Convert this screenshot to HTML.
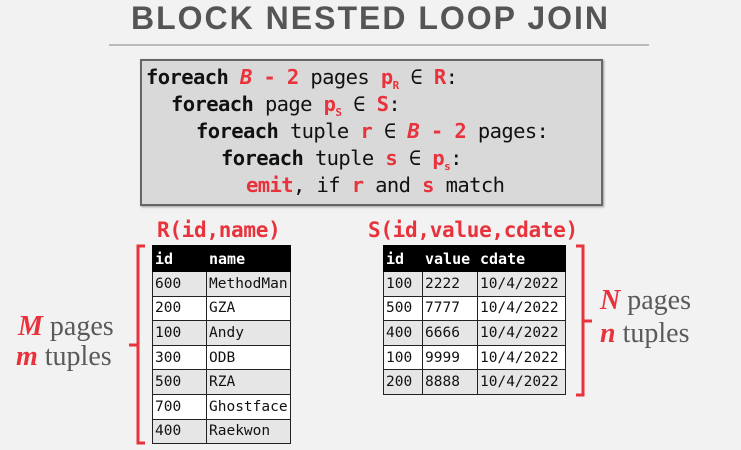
<!DOCTYPE html>
<html><head><style>
body{margin:0;width:741px;height:450px;background:#f2f2f2;position:relative;overflow:hidden;font-family:"Liberation Mono",monospace}
.a{position:absolute;white-space:pre}
.r{color:#e8323c}
.b{font-weight:bold}
table{position:absolute;border-collapse:collapse;font-family:"DejaVu Sans Mono","Liberation Mono",monospace;font-size:14.5px;table-layout:fixed}
tr{height:24.6px}
tr.h{height:26px}
td{border:1.5px solid #222;padding:0 2px;line-height:18px;color:#111;overflow:hidden;white-space:nowrap}
tr.h td{background:#000;color:#fff;font-weight:bold;border-color:#000;font-size:15px}
tr.g td{background:#e6e6e6}
tr.w td{background:#fff}
.code{position:absolute;left:140px;top:59px;width:459px;height:143px;background:#d9d9d9;border:2px solid #666;box-shadow:1px 1px 2px #999}
.code div{position:absolute;font-family:"DejaVu Sans Mono","Liberation Mono",monospace;font-size:20.5px;white-space:pre;color:#111;letter-spacing:-0.6px}
.serif{font-family:"Liberation Serif",serif;font-size:28px;color:#5a5a5a}
.serif i{color:#e8323c;font-weight:bold}
</style></head><body>
<div class="a b" style="left:0;width:741px;text-align:center;top:0px;font-family:'Liberation Sans',sans-serif;font-size:32px;color:#555;letter-spacing:2px">BLOCK NESTED LOOP JOIN</div>
<div class="a" style="left:109px;top:44px;width:540px;height:2px;background:#bbb"></div>
<div class="code">
<div style="left:4px;top:4px"><b>foreach</b> <span class="r b"><i>B</i> - 2</span> pages <span class="r b">p<sub style="font-size:11px">R</sub></span> ∈ <span class="r b">R</span>:</div>
<div style="left:29px;top:31px"><b>foreach</b> page <span class="r b">p<sub style="font-size:11px">S</sub></span> ∈ <span class="r b">S</span>:</div>
<div style="left:54px;top:58px"><b>foreach</b> tuple <span class="r b">r</span> ∈ <span class="r b"><i>B</i> - 2</span> pages:</div>
<div style="left:79px;top:85px"><b>foreach</b> tuple <span class="r b">s</span> ∈ <span class="r b">p<sub style="font-size:11px">s</sub></span>:</div>
<div style="left:104px;top:112px"><span class="r b">emit</span>, if <span class="r b">r</span> and <span class="r b">s</span> match</div>
</div>
<div class="a r b" style="left:157px;top:218px;font-family:'DejaVu Sans Mono',monospace;font-size:21px;letter-spacing:-0.3px">R(id,name)</div>
<div class="a r b" style="left:368px;top:218px;font-family:'DejaVu Sans Mono',monospace;font-size:21px;letter-spacing:-0.3px">S(id,value,cdate)</div>
<table style="left:152px;top:245px;width:139px">
<tr class="h"><td style="width:49px">id</td><td>name</td></tr>
<tr class="g"><td>600</td><td>MethodMan</td></tr>
<tr class="w"><td>200</td><td>GZA</td></tr>
<tr class="g"><td>100</td><td>Andy</td></tr>
<tr class="w"><td>300</td><td>ODB</td></tr>
<tr class="g"><td>500</td><td>RZA</td></tr>
<tr class="w"><td>700</td><td>Ghostface</td></tr>
<tr class="g"><td>400</td><td>Raekwon</td></tr>
</table>
<table style="left:383px;top:245px;width:183px">
<tr class="h"><td style="width:34px">id</td><td style="width:50px">value</td><td>cdate</td></tr>
<tr class="g"><td>100</td><td>2222</td><td>10/4/2022</td></tr>
<tr class="w"><td>500</td><td>7777</td><td>10/4/2022</td></tr>
<tr class="g"><td>400</td><td>6666</td><td>10/4/2022</td></tr>
<tr class="w"><td>100</td><td>9999</td><td>10/4/2022</td></tr>
<tr class="g"><td>200</td><td>8888</td><td>10/4/2022</td></tr>
</table>
<svg class="a" style="left:0;top:0" width="741" height="450">
<path d="M145 246 H138 V443 H145 M138 345 H129" fill="none" stroke="#e8323c" stroke-width="3"/>
<path d="M576 246 H583 V395 H576 M583 321 H592" fill="none" stroke="#e8323c" stroke-width="3"/>
</svg>
<div class="a serif" style="left:18px;top:311px"><i>M</i> pages</div>
<div class="a serif" style="left:16px;top:341px"><i>m</i> tuples</div>
<div class="a serif" style="left:600px;top:285px"><i>N</i> pages</div>
<div class="a serif" style="left:600px;top:318px"><i>n</i> tuples</div>
</body></html>
